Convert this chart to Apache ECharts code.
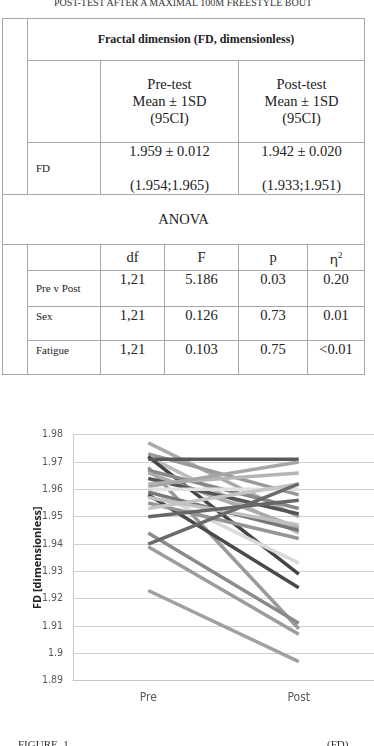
<!DOCTYPE html>
<html>
<head>
<meta charset="utf-8">
<script src="https://cdn.jsdelivr.net/npm/echarts@6/dist/echarts.min.js"></script>
<style>
  html, body { margin: 0; padding: 0; background: #fff; }
  body { width: 374px; height: 746px; position: relative; overflow: hidden; font-family: 'Liberation Serif', 'Times New Roman', serif; color: #222; }
  .title { position: absolute; left: 0; width: 366px; top: -2px; text-align: center; font-size: 10px; line-height: 10px; color: #333; }
  table { position: absolute; left: 2px; top: 18px; border-collapse: collapse; table-layout: fixed; }
  td { border: 1px solid #a8a8a8; padding: 0; text-align: center; vertical-align: middle; font-size: 14.5px; line-height: 17px; }
  td.small { font-size: 11px; text-align: left; padding-left: 8px; }
  td.top { vertical-align: top; line-height: 16px; }
  td.small.top { padding-top: 1px; }
  .bold { font-weight: bold; font-size: 12px; }
  .caption { position: absolute; top: 739px; font-size: 11px; line-height: 11px; color: #333; }
  #chart { position: absolute; left: 0; top: 400px; width: 374px; height: 346px; }
</style>
</head>
<body>
<div class="title">POST-TEST AFTER A MAXIMAL 100M FREESTYLE BOUT</div>
<table>
  <colgroup>
    <col style="width:25px"><col style="width:73px"><col style="width:64px">
    <col style="width:74px"><col style="width:69px"><col style="width:57px">
  </colgroup>
  <tr style="height:42px"><td rowspan="3"></td><td colspan="5" class="bold">Fractal dimension (FD, dimensionless)</td></tr>
  <tr style="height:82px"><td></td><td colspan="2">Pre-test<br>Mean ± 1SD<br>(95CI)</td><td colspan="2">Post-test<br>Mean ± 1SD<br>(95CI)</td></tr>
  <tr style="height:52px"><td class="small">FD</td><td colspan="2">1.959 ± 0.012<br><br>(1.954;1.965)</td><td colspan="2">1.942 ± 0.020<br><br>(1.933;1.951)</td></tr>
  <tr style="height:50px"><td colspan="6">ANOVA</td></tr>
  <tr style="height:26px"><td rowspan="4"></td><td></td><td>df</td><td>F</td><td>p</td><td><span style="font-family:'DejaVu Sans';font-size:13px">η</span><sup style="font-size:9px">2</sup></td></tr>
  <tr style="height:36px"><td class="small">Pre v Post</td><td class="top">1,21</td><td class="top">5.186</td><td class="top">0.03</td><td class="top">0.20</td></tr>
  <tr style="height:34px"><td class="small top">Sex</td><td class="top">1,21</td><td class="top">0.126</td><td class="top">0.73</td><td class="top">0.01</td></tr>
  <tr style="height:34px"><td class="small top">Fatigue</td><td class="top">1,21</td><td class="top">0.103</td><td class="top">0.75</td><td class="top">&lt;0.01</td></tr>
</table>
<div id="chart"></div>
<div class="caption" style="left:18px">FIGURE&nbsp;&nbsp;1</div>
<div class="caption" style="left:327px">(FD)</div>
<script>
// categories and per-subject FD values (pre / post)
const categories = ['Pre', 'Post'];
const preValues = [1.977, 1.973, 1.972, 1.972, 1.971, 1.968, 1.967, 1.966, 1.964, 1.962, 1.961, 1.960,
  1.960, 1.959, 1.958, 1.957, 1.955, 1.953, 1.950, 1.944, 1.940, 1.939, 1.923];
const postValues = [1.950, 1.958, 1.944, 1.929, 1.971, 1.909, 1.953, 1.946, 1.951, 1.966, 1.970, 1.960,
  1.933, 1.945, 1.924, 1.947, 1.942, 1.962, 1.956, 1.911, 1.962, 1.907, 1.897];
const yMin = 1.89;
const yMax = 1.98;
const yStep = 0.01;

// grey shades, one per subject
const greys = ['#aaaaaa', '#999999', '#bbbbbb', '#444444', '#595959', '#9a9a9a', '#888888', '#ababab',
  '#555555', '#b5b5b5', '#a6a6a6', '#e0e0e0', '#dadada', '#777777', '#4a4a4a', '#c0c0c0', '#959595',
  '#c4c4c4', '#666666', '#8a8a8a', '#6a6a6a', '#9c9c9c', '#a0a0a0'];

const chart = echarts.init(document.getElementById('chart'), null, { renderer: 'canvas' });

const series = preValues.map((pre, i) => ({
  type: 'line',
  data: [pre, postValues[i]],
  symbol: 'none',
  silent: true,
  lineStyle: { color: greys[i % greys.length], width: 3.5 },
}));

chart.setOption({
  animation: false,
  grid: { left: 73, top: 34.7, height: 246, width: 308 },
  xAxis: {
    type: 'category',
    data: categories,
    boundaryGap: true,
    axisLine: { lineStyle: { color: '#c8c8c8' } },
    axisTick: { show: false },
    axisLabel: { color: '#595959', fontSize: 12, margin: 11, fontFamily: "'Liberation Sans Narrow', 'DejaVu Sans Condensed', sans-serif" },
  },
  yAxis: {
    type: 'value',
    min: yMin,
    max: yMax,
    interval: yStep,
    name: 'FD [dimensionless]',
    nameLocation: 'middle',
    nameGap: 30,
    nameMoveOverlap: false,
    nameTextStyle: { color: '#222', fontSize: 11, fontWeight: 'bold', fontFamily: "'Open Sans', sans-serif" },
    axisLine: { show: true, lineStyle: { color: '#c8c8c8' } },
    axisTick: { show: false },
    axisLabel: {
      color: '#595959',
      fontSize: 10.5,
      margin: 10,
      fontFamily: "'Liberation Sans Narrow', 'DejaVu Sans Condensed', sans-serif",
      formatter: (v) => String(parseFloat(v.toFixed(2))),
    },
    splitLine: { lineStyle: { color: '#d0d0d0', width: 1 } },
  },
  series: series,
});
</script>
</body>
</html>
